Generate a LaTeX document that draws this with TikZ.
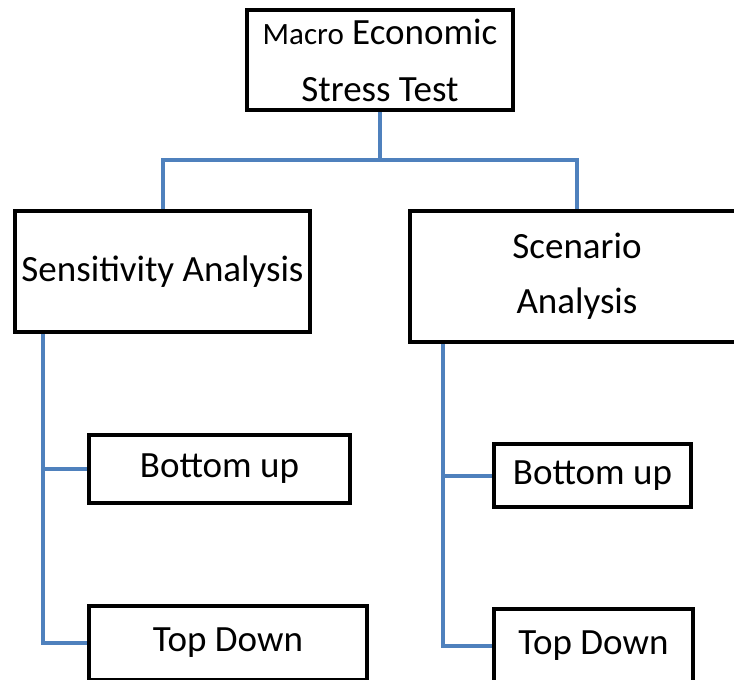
\documentclass[tikz,border=0pt]{standalone}
\usepackage{fontspec}
\setmainfont{Carlito}
\usetikzlibrary{calc}

\definecolor{linkblue}{RGB}{79,129,189}
\tikzset{
  box/.style={draw=black, line width=4pt, fill=white, inner sep=0pt, align=center,
    font=\fontsize{37}{57}\selectfont},
  link/.style={draw=linkblue, line width=4pt}
}

\begin{document}
\begin{tikzpicture}[x=1pt,y=-1pt]
\useasboundingbox (0,0) rectangle (734,680);

\node[box, minimum width=266pt, minimum height=100pt] (top) at (380,60)
  {{\fontsize{31}{57}\selectfont Macro} Economic\\Stress Test};
\node[box, minimum width=295pt, minimum height=121pt] (sens) at (162.5,271.5) {Sensitivity Analysis};
\node[box, minimum width=334pt, minimum height=131pt,
  font=\fontsize{37}{55}\selectfont] (scen) at (577,276.5) {Scenario\\Analysis};

\node[box, minimum width=261pt, minimum height=68pt] (sbu) at (219.5,469) {Bottom up};
\node[box, minimum width=278pt, minimum height=74pt] (std) at (228,643) {Top Down};
\node[box, minimum width=197pt, minimum height=63pt] (cbu) at (592.5,475.5) {Bottom up};
\node[box, minimum width=199pt, minimum height=74pt] (ctd) at (593.5,646) {Top Down};

\coordinate (bus) at (380,160);
\draw[link] (top.south) -- (bus);
\draw[link] (sens.north) |- (bus) -| (scen.north);

\draw[link] ([xshift=30pt]sens.south west) |- (sbu.west);
\draw[link] ([xshift=30pt]sens.south west) |- (std.west);
\draw[link] ([xshift=35pt]scen.south west) |- (cbu.west);
\draw[link] ([xshift=35pt]scen.south west) |- (ctd.west);
\end{tikzpicture}
\end{document}
